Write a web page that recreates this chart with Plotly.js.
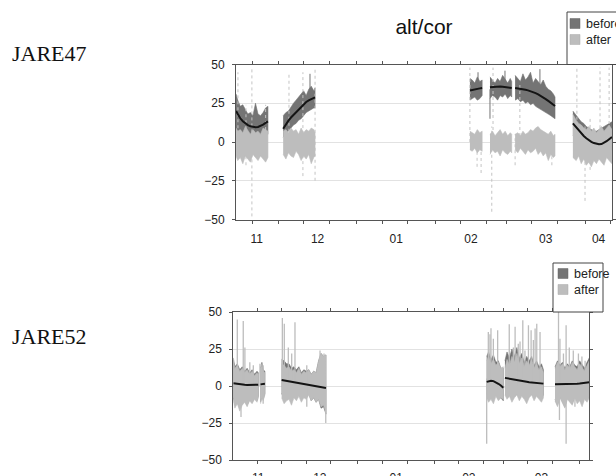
<!DOCTYPE html>
<html>
<head>
<meta charset="utf-8">
<script src="https://cdn.plot.ly/plotly-3.0.1.min.js"></script>
<style>html,body{margin:0;padding:0;background:#fff;}#chart{width:616px;height:476px;}</style>
</head>
<body>
<div id="chart"></div>
<script>
// ---------------- DATA : JARE47 (2005-2006) ----------------
const j47Dates = [
  '2005-11-14 08:00','2005-11-15','2005-11-16','2005-11-17','2005-11-18','2005-11-19','2005-11-20','2005-11-21','2005-11-22','2005-11-23','2005-11-24','2005-11-25','2005-11-26','2005-11-26 22:00', null,
  '2005-12-02 22:00','2005-12-04','2005-12-05','2005-12-06','2005-12-07','2005-12-08','2005-12-09','2005-12-10','2005-12-11','2005-12-12','2005-12-13','2005-12-14','2005-12-15','2005-12-15 12:00', null,
  '2006-02-14 14:00','2006-02-15 12:00','2006-02-16 12:00','2006-02-17 12:00','2006-02-18 12:00','2006-02-19 10:00', null,
  '2006-02-22 12:00','2006-02-23 12:00','2006-02-24 12:00','2006-02-25 12:00','2006-02-26 12:00','2006-02-27 12:00','2006-02-28 12:00','2006-03-01 12:00','2006-03-02 12:00','2006-03-03 02:00', null,
  '2006-03-04 10:00','2006-03-05 12:00','2006-03-06 12:00','2006-03-07 12:00','2006-03-08 12:00','2006-03-09 12:00','2006-03-10 12:00','2006-03-11 12:00','2006-03-12 12:00','2006-03-13 12:00','2006-03-14 12:00','2006-03-15 12:00','2006-03-16 12:00','2006-03-17 12:00','2006-03-18 12:00','2006-03-19 12:00','2006-03-20 04:00', null,
  '2006-03-27 05:00','2006-03-28 12:00','2006-03-29 12:00','2006-03-30 12:00','2006-03-31 12:00','2006-04-01 12:00','2006-04-02 12:00','2006-04-03 12:00','2006-04-04 12:00','2006-04-05 12:00','2006-04-06 12:00','2006-04-07 12:00','2006-04-08 12:00','2006-04-09 12:00','2006-04-10 12:00','2006-04-11 15:00'
];
const j47Fit = [
  20, 17.8, 15.3, 13.4, 12.0, 10.9, 10.1, 9.6, 9.5, 9.7, 10.3, 11.2, 12.3, 13.3, null,
  8.5, 11.5, 13.8, 15.8, 17.5, 19.5, 21.3, 23, 24.6, 25.8, 26.9, 27.8, 28.5, 28.8, null,
  33.2, 33.6, 34.0, 34.3, 34.6, 34.8, null,
  35.3, 35.5, 35.7, 35.8, 35.8, 35.7, 35.5, 35.3, 35.0, 34.8, null,
  34.9, 34.7, 34.4, 34.1, 33.7, 33.3, 32.8, 32.2, 31.5, 30.7, 29.8, 28.8, 27.7, 26.5, 25.2, 23.9, 23.2, null,
  12, 9.5, 7.4, 5.5, 3.9, 2.4, 1.1, 0.1, -0.7, -1.3, -1.5, -1.3, -0.6, 0.5, 1.8, 3.2
];
const j47BeforeHi = [
  31, 27, 23, 24, 21, 18, 19, 17, 25, 18, 17, 19, 22, 23, null,
  17, 19, 20, 23, 25, 27, 29, 31, 33, 30, 34, 36, 33, 35, null,
  41, 40, 38, 42, 39, 40, null,
  42, 40, 38, 41, 39, 43, 40, 38, 41, 39, null,
  43, 41, 39, 44, 40, 42, 45, 38, 41, 39, 37, 40, 36, 34, 33, 31, 29, null,
  20, 17, 15, 13, 12, 10, 9, 8, 7, 7, 8, 9, 10, 11, 12, 13
];
const j47BeforeLo = [
  8, 7, 5, 4, 3, 2, 1, 0, 1, 1, 2, 3, 4, 5, null,
  3, 5, 7, 9, 11, 12, 14, 15, 17, 19, 20, 21, 22, 22, null,
  27, 28, 29, 27, 28, 30, null,
  28, 30, 29, 27, 30, 29, 31, 28, 30, 29, null,
  27, 28, 26, 27, 25, 26, 24, 25, 23, 22, 21, 20, 19, 18, 17, 16, 15, null,
  4, 2, 0, -2, -4, -5, -6, -8, -9, -9, -10, -9, -8, -7, -6, -5
];
const j47AfterHi = [
  9, 7, 8, 6, 10, 7, 5, 8, 6, 7, 5, 9, 8, 7, null,
  7, 8, 6, 9, 7, 8, 5, 9, 6, 8, 7, 9, 8, 6, null,
  7, 6, 5, 8, 6, 7, null,
  5, 7, 4, 6, 8, 5, 7, 4, 6, 5, null,
  5, 6, 4, 7, 5, 6, 8, 7, 9, 10, 8, 7, 6, 5, 7, 4, 5, null,
  18, 14, 12, 11, 9, 8, 10, 7, 9, 6, 8, 10, 7, 9, 11, 8
];
const j47AfterLo = [
  -9, -12, -10, -14, -9, -11, -13, -8, -10, -12, -9, -11, -13, -10, null,
  -8, -11, -7, -9, -10, -6, -8, -12, -9, -11, -8, -14, -10, -9, null,
  -5, -6, -4, -7, -5, -6, null,
  -8, -5, -7, -6, -9, -5, -7, -8, -6, -7, null,
  -5, -7, -4, -6, -8, -5, -7, -6, -4, -8, -6, -9, -7, -12, -8, -10, -9, null,
  -10, -12, -9, -14, -11, -15, -13, -16, -12, -14, -11, -13, -15, -10, -12, -14
];
// isolated spikes
const j47AfterSpikeDates = ['2005-11-15 02:00','2005-11-18 06:00','2005-11-20 14:00','2005-11-26 00:00','2005-12-05 05:00','2005-12-10 17:00','2005-12-15 12:00','2006-02-14 14:00','2006-02-17 10:00','2006-02-19 00:00','2006-02-23 05:00','2006-02-23 17:00','2006-03-04 10:00','2006-03-06 07:00','2006-03-18 22:00','2006-03-28 19:00','2006-04-01 00:00','2006-04-03 00:00','2006-04-06 22:00','2006-04-10 12:00'];
const j47AfterSpikeLo = [5, -15, -48, 0, -5, -22, -25, 0, -16, -20, -45, 0, -15, 0, -15, -5, -38, -18, 5, 0];
const j47AfterSpikeHi = [45, 24, 48, 24, 44, 45, 48, 48, 5, 5, 10, 48, 5, 38, 5, 48, 10, 15, 48, 48];
const j47BeforeSpikeDates = ['2005-12-13 12:00','2006-02-17 19:00','2006-02-22 12:00','2006-02-28 10:00','2006-03-14 05:00'];
const j47BeforeSpikeLo = [30, 30, 15, 36, 25];
const j47BeforeSpikeHi = [44, 45, 34, 46, 47];

// ---------------- DATA : JARE52 (2010-2011) ----------------
const j52Dates = [
  '2010-11-11 09:00','2010-11-12','2010-11-13','2010-11-14','2010-11-15','2010-11-16','2010-11-17','2010-11-18','2010-11-19','2010-11-20','2010-11-21','2010-11-21 12:00', null,
  '2010-11-22 10:00','2010-11-23','2010-11-23 12:00','2010-11-24 05:00', null,
  '2010-12-01','2010-12-02','2010-12-03','2010-12-04','2010-12-05','2010-12-06','2010-12-07','2010-12-08','2010-12-09','2010-12-10','2010-12-11','2010-12-12','2010-12-13','2010-12-14','2010-12-15','2010-12-16','2010-12-17','2010-12-18','2010-12-19', null,
  '2011-02-22 06:00','2011-02-23','2011-02-24','2011-02-25','2011-02-26','2011-02-27','2011-02-28','2011-03-01', null,
  '2011-03-01 16:00','2011-03-02 12:00','2011-03-03 12:00','2011-03-04 12:00','2011-03-05 12:00','2011-03-06 12:00','2011-03-07 12:00','2011-03-08 12:00','2011-03-09 12:00','2011-03-10 12:00','2011-03-11 12:00','2011-03-12 12:00','2011-03-13 12:00','2011-03-14 12:00','2011-03-15 12:00','2011-03-16 12:00','2011-03-17 07:00', null,
  '2011-03-22','2011-03-23','2011-03-24','2011-03-25','2011-03-26','2011-03-27','2011-03-28','2011-03-29','2011-03-30','2011-03-31','2011-04-01','2011-04-02','2011-04-03','2011-04-04','2011-04-04 22:00'
];
const j52Fit = [
  1.8, 1.6, 1.4, 1.2, 1.0, 0.8, 0.7, 0.6, 0.6, 0.7, 0.8, 0.9, null,
  1.1, 1.3, 1.4, 1.5, null,
  4.0, 3.7, 3.4, 3.0, 2.7, 2.4, 2.1, 1.8, 1.5, 1.2, 0.9, 0.6, 0.3, 0.0, -0.3, -0.6, -0.8, -1.1, -1.3, null,
  2.8, 3.2, 3.5, 3.3, 2.6, 1.5, 0.3, -1.2, null,
  5.5, 5.3, 5.0, 4.7, 4.4, 4.1, 3.8, 3.5, 3.2, 2.9, 2.6, 2.4, 2.2, 2.0, 1.8, 1.7, 1.6, null,
  1.1, 1.1, 1.1, 1.1, 1.2, 1.2, 1.3, 1.4, 1.5, 1.6, 1.7, 1.9, 2.1, 2.3, 2.5
];
const j52BeforeHi = [
  19, 13, 15, 11, 13, 10, 12, 9, 11, 8, 10, 9, null,
  12, 16, 11, 10, null,
  18, 17, 15, 15, 12, 13, 11, 13, 9, 11, 10, 11, 8, 10, 9, 17, 22, 20, 21, null,
  20, 23, 18, 21, 16, 17, 12, 12, null,
  17, 23, 19, 25, 20, 26, 19, 22, 16, 20, 17, 20, 14, 17, 13, 15, 11, null,
  13, 17, 14, 16, 12, 15, 13, 17, 14, 13, 17, 14, 12, 16, 19
];
const j52BeforeLo = [
  -8, -13, -11, -15, -12, -10, -13, -9, -11, -8, -10, -7, null,
  -11, -7, -9, -5, null,
  -5, -9, -7, -6, -10, -6, -8, -5, -9, -7, -8, -5, -10, -8, -11, -9, -15, -14, -19, null,
  -5, -8, -6, -9, -5, -9, -8, -10, null,
  -1, -4, -2, -6, -4, -2, -6, -4, -6, -9, -5, -4, -8, -5, -7, -9, -6, null,
  -9, -13, -7, -11, -14, -8, -10, -12, -7, -10, -8, -12, -7, -9, -6
];
const j52AfterHi = [
  17, 12, 14, 10, 12, 9, 11, 8, 10, 7, 9, 8, null,
  11, 15, 10, 9, null,
  15, 14, 12, 13, 10, 11, 9, 12, 8, 10, 9, 11, 8, 10, 9, 17, 22, 20, 21, null,
  17, 20, 15, 18, 14, 16, 12, 13, null,
  12, 18, 14, 20, 16, 22, 15, 19, 13, 17, 14, 18, 12, 15, 11, 13, 9, null,
  12, 16, 13, 15, 11, 14, 12, 16, 13, 11, 15, 12, 10, 14, 17
];
const j52AfterLo = [
  -10, -15, -12, -17, -13, -11, -14, -10, -12, -9, -11, -8, null,
  -12, -8, -10, -6, null,
  -8, -12, -10, -9, -13, -8, -10, -7, -11, -8, -9, -6, -10, -8, -11, -9, -14, -13, -18, null,
  -8, -11, -9, -12, -7, -10, -8, -9, null,
  -6, -9, -7, -11, -8, -6, -10, -7, -9, -12, -8, -6, -10, -7, -9, -11, -8, null,
  -10, -14, -8, -12, -15, -9, -11, -13, -8, -12, -10, -14, -9, -11, -8
];
const j52SpikeDates = ['2010-11-13 00:00','2010-11-14 12:00','2010-11-15 10:00','2010-11-16 02:00','2010-11-18 02:00','2010-11-19 12:00','2010-11-22 05:00','2010-11-23 12:00',
  '2010-12-01 07:00','2010-12-02 02:00','2010-12-03 17:00','2010-12-05 02:00','2010-12-06 10:00','2010-12-11 05:00','2010-12-16 14:00','2010-12-18 05:00','2010-12-18 22:00',
  '2011-02-22 06:00','2011-02-22 22:00','2011-02-23 14:00','2011-02-24 00:00','2011-02-24 23:00','2011-02-26 17:00',
  '2011-03-03 10:00','2011-03-05 02:00','2011-03-05 19:00','2011-03-07 02:00','2011-03-07 19:00','2011-03-08 22:00','2011-03-09 19:00','2011-03-11 05:00','2011-03-12 07:00','2011-03-13 05:00','2011-03-13 22:00','2011-03-14 14:00','2011-03-15 22:00',
  '2011-03-23 10:00','2011-03-23 19:00','2011-03-24 00:00','2011-03-25 10:00','2011-03-26 12:00','2011-03-27 19:00','2011-03-29 10:00','2011-03-30 02:00','2011-03-31 12:00','2011-04-01 22:00','2011-04-03 05:00'];
const j52SpikeLo = [0, -21, 0, 0, 0, 0, 0, -12,
  0, 0, 0, 0, 0, -14, 0, 0, -25,
  -39, 0, 0, 0, 0, 0,
  0, 0, 0, 0, 0, 0, 0, 0, 0, 0, 0, 0, 0,
  0, -23, 0, 0, -39, 0, 0, -14, 0, 0, 0];
const j52SpikeHi = [45, 5, 44, 26, 16, 14, 15, 14,
  46, 42, 26, 22, 43, 14, 24, 22, 0,
  5, 36.5, 35, 39, 32, 37.6,
  41.7, 26, 40, 28.6, 30, 44.4, 24, 41, 37.6, 31, 38.8, 42, 36.5,
  50, 0, 32, 22, 41, 26, 24, 0, 22, 20, 17];

// ---------------- AXES TEXT ----------------
const yTicks = [-50, -25, 0, 25, 50];
const monthLabels = ['11', '12', '01', '02', '03', '04'];
const j47LabelDates = ['2005-11-22 12:00','2005-12-16 12:00','2006-01-16 12:00','2006-02-15 00:00','2006-03-16 12:00','2006-04-06 08:00'];
const j52LabelDates = ['2010-11-21 12:00','2010-12-16 12:00','2011-01-16 12:00','2011-02-15 00:00','2011-03-16 12:00'];
const j47MinorDates = ['2005-11-21','2005-12-01','2005-12-11','2005-12-21','2006-01-01','2006-01-11','2006-01-21','2006-02-01','2006-02-11','2006-02-21','2006-03-01','2006-03-11','2006-03-21','2006-04-01','2006-04-11'];
const j52MinorDates = ['2010-11-21','2010-12-01','2010-12-11','2010-12-21','2011-01-01','2011-01-11','2011-01-21','2011-02-01','2011-02-11','2011-02-21','2011-03-01','2011-03-11','2011-03-21','2011-04-01'];
const j47Range = ['2005-11-14 07:30', '2006-04-11 15:20'];
const j52Range = ['2010-11-11 09:00', '2011-04-04 22:00'];
const seriesNames = ['before', 'after'];
const panelNames = ['JARE47', 'JARE52'];
const chartTitle = 'alt/cor';

// ---------------- BUILD ----------------
const W = 616, H = 476;
const PX = x => x / W, PY = y => 1 - y / H;
const DARK = '#747474', LIGHT = '#bdbdbd';
const SANS = 'Liberation Sans, Arial, Helvetica, sans-serif';

function band(dates, hi, lo) {
  const xs = [], ys = [];
  let seg = [];
  const flush = () => {
    if (seg.length) {
      seg.forEach(i => { xs.push(dates[i]); ys.push(hi[i]); });
      seg.slice().reverse().forEach(i => { xs.push(dates[i]); ys.push(lo[i]); });
      xs.push(null); ys.push(null);
    }
    seg = [];
  };
  dates.forEach((d, i) => { if (d === null) flush(); else seg.push(i); });
  flush();
  return { xs, ys };
}
function spikes(dates, lo, hi) {
  const xs = [], ys = [];
  dates.forEach((d, i) => { xs.push(d, d, null); ys.push(lo[i], hi[i], null); });
  return { xs, ys };
}
function fillTrace(b, color, xa, ya) {
  return { type: 'scatter', mode: 'lines', x: b.xs, y: b.ys, fill: 'toself', fillcolor: color,
    line: { color: color, width: 0.6 }, xaxis: xa, yaxis: ya, hoverinfo: 'skip', showlegend: false };
}
function spikeTrace(s, color, width, dash, xa, ya) {
  return { type: 'scatter', mode: 'lines', x: s.xs, y: s.ys, line: { color: color, width: width, dash: dash },
    xaxis: xa, yaxis: ya, hoverinfo: 'skip', showlegend: false, connectgaps: false };
}
function fitTrace(dates, fit, xa, ya) {
  return { type: 'scatter', mode: 'lines', x: dates, y: fit, line: { color: '#141414', width: 2 },
    xaxis: xa, yaxis: ya, connectgaps: false, hoverinfo: 'skip', showlegend: false };
}

const traces = [
  spikeTrace(spikes(j47BeforeSpikeDates, j47BeforeSpikeLo, j47BeforeSpikeHi), DARK, 1, 'solid', 'x', 'y'),
  fillTrace(band(j47Dates, j47BeforeHi, j47BeforeLo), DARK, 'x', 'y'),
  spikeTrace(spikes(j47AfterSpikeDates, j47AfterSpikeLo, j47AfterSpikeHi), '#c4c4c4', 1, 'dot', 'x', 'y'),
  fillTrace(band(j47Dates, j47AfterHi, j47AfterLo), LIGHT, 'x', 'y'),
  fitTrace(j47Dates, j47Fit, 'x', 'y'),

  fillTrace(band(j52Dates, j52BeforeHi, j52BeforeLo), DARK, 'x2', 'y2'),
  fillTrace(band(j52Dates, j52AfterHi, j52AfterLo), LIGHT, 'x2', 'y2'),
  spikeTrace(spikes(j52SpikeDates, j52SpikeLo, j52SpikeHi), LIGHT, 1.3, 'solid', 'x2', 'y2'),
  fitTrace(j52Dates, j52Fit, 'x2', 'y2')
];

function xAxis(domain, range, labelDates, minorDates, anchor, standoff) {
  return {
    domain: domain, anchor: anchor, type: 'date', range: range,
    tickmode: 'array', tickvals: labelDates, ticktext: monthLabels.slice(0, labelDates.length),
    ticks: '', showline: true, linecolor: '#555', linewidth: 1, mirror: 'ticks',
    showgrid: false, zeroline: false, fixedrange: true, ticklabelstandoff: standoff,
    tickfont: { family: SANS, size: 12, color: '#222' },
    minor: { tickmode: 'array', tickvals: minorDates, ticks: 'outside', ticklen: 3, tickwidth: 1, tickcolor: '#555', showgrid: false }
  };
}
function yAxis(domain, anchor) {
  return {
    domain: domain, anchor: anchor, range: [-50, 50], tickmode: 'array', tickvals: yTicks,
    ticks: 'outside', ticklen: 3, tickwidth: 1, tickcolor: '#555', showline: true, linecolor: '#555', linewidth: 1,
    mirror: 'ticks', showgrid: true, gridcolor: '#e2e2e2', gridwidth: 1, zeroline: false, fixedrange: true,
    ticklabelstandoff: 5, tickfont: { family: SANS, size: 12, color: '#222' }
  };
}

function legendBox(x0, x1, y0, y1, sx, tx, yb, ya) {
  const shapes = [
    { type: 'rect', xref: 'paper', yref: 'paper', x0: PX(x0), x1: PX(x1), y0: PY(y1), y1: PY(y0), line: { color: '#444', width: 1 }, fillcolor: '#fff' },
    { type: 'rect', xref: 'paper', yref: 'paper', x0: PX(sx), x1: PX(sx + 10), y0: PY(yb + 5), y1: PY(yb - 5), line: { color: '#666', width: 0.5 }, fillcolor: DARK },
    { type: 'rect', xref: 'paper', yref: 'paper', x0: PX(sx), x1: PX(sx + 10), y0: PY(ya + 5), y1: PY(ya - 5), line: { color: '#aaa', width: 0.5 }, fillcolor: LIGHT }
  ];
  const ann = [
    { xref: 'paper', yref: 'paper', x: PX(tx), y: PY(yb), xanchor: 'left', yanchor: 'middle', text: seriesNames[0], showarrow: false, font: { family: SANS, size: 12.5, color: '#222' } },
    { xref: 'paper', yref: 'paper', x: PX(tx), y: PY(ya), xanchor: 'left', yanchor: 'middle', text: seriesNames[1], showarrow: false, font: { family: SANS, size: 12.5, color: '#222' } }
  ];
  return { shapes, ann };
}
const lg1 = legendBox(567, 640, 12, 64.5, 570, 584, 23.5, 39.5);
const lg2 = legendBox(553, 603, 263, 312, 558, 571.5, 273.5, 289.5);

const layout = {
  width: W, height: H, margin: { l: 0, r: 0, t: 0, b: 0 },
  paper_bgcolor: '#fff', plot_bgcolor: '#fff', showlegend: false,
  title: { text: chartTitle, x: PX(424), xanchor: 'center', y: PY(27), yanchor: 'middle', font: { family: SANS, size: 21, color: '#111' } },
  xaxis: xAxis([PX(236), PX(612)], j47Range, j47LabelDates, j47MinorDates, 'y', 8),
  yaxis: yAxis([PY(219.5), PY(64.5)], 'x'),
  xaxis2: xAxis([PX(233.3), PX(589.3)], j52Range, j52LabelDates, j52MinorDates, 'y2', 7),
  yaxis2: yAxis([PY(460), PY(312)], 'x2'),
  shapes: lg1.shapes.concat(lg2.shapes),
  annotations: lg1.ann.concat(lg2.ann).concat([
    { xref: 'paper', yref: 'paper', x: PX(10), y: PY(53), xanchor: 'left', yanchor: 'middle', text: panelNames[0], showarrow: false, font: { family: 'Liberation Serif, Times New Roman, serif', size: 22, color: '#111' } },
    { xref: 'paper', yref: 'paper', x: PX(10), y: PY(336), xanchor: 'left', yanchor: 'middle', text: panelNames[1], showarrow: false, font: { family: 'Liberation Serif, Times New Roman, serif', size: 22, color: '#111' } }
  ])
};

Plotly.newPlot('chart', traces, layout, { staticPlot: true, displayModeBar: false });
</script>
</body>
</html>
